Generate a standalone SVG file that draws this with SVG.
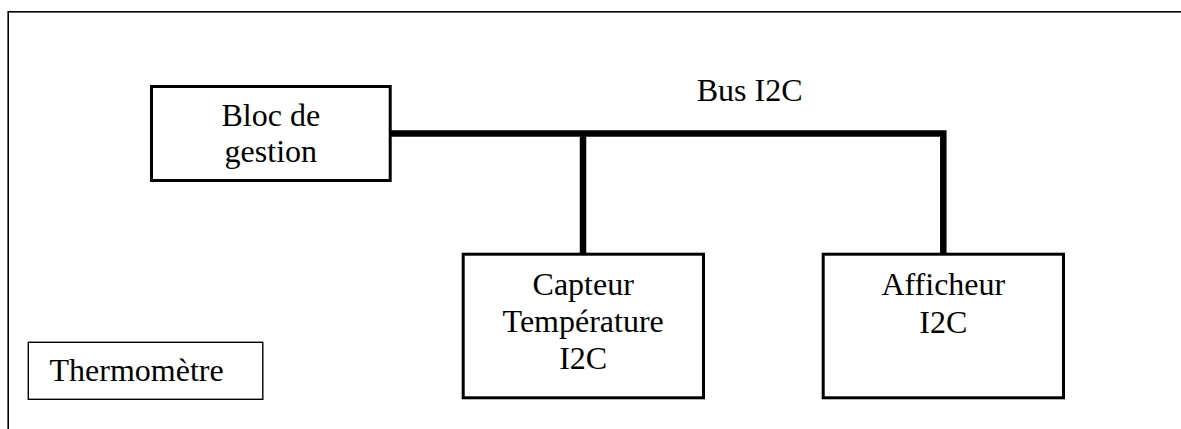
<svg xmlns="http://www.w3.org/2000/svg" width="1181" height="429" viewBox="0 0 1181 429">
<style>
text{font-family:"Liberation Serif","Times New Roman",serif;font-size:32px;fill:#000}
.c{text-anchor:middle}
.box{fill:#fff;stroke:#000;stroke-width:3}
.bus{fill:none;stroke:#000;stroke-width:6.5;stroke-linejoin:miter;stroke-linecap:butt}
</style>
<rect x="0" y="0" width="1181" height="429" fill="#fff"/>
<g id="frame">
<rect x="8.2" y="11.8" width="1200" height="500" fill="none" stroke="#000" stroke-width="1.6"/>
</g>
<g id="connectors">
<path class="bus" d="M390,133.5 H943.3 V254"/>
<path class="bus" d="M583,133.5 V254"/>
<text x="696.7" y="100.5">Bus I2C</text>
</g>
<g id="bloc-gestion">
<rect class="box" x="151.5" y="86.5" width="238.7" height="94"/>
<text class="c" x="270.8" y="125.7">Bloc de</text>
<text class="c" x="270.8" y="162">gestion</text>
</g>
<g id="capteur">
<rect class="box" x="463.2" y="254.2" width="240.3" height="143.6"/>
<text class="c" x="583.2" y="295">Capteur</text>
<text class="c" x="583.2" y="331.8">Température</text>
<text class="c" x="583.2" y="368.6">I2C</text>
</g>
<g id="afficheur">
<rect class="box" x="823.2" y="254.2" width="240.3" height="143.6"/>
<text class="c" x="943.3" y="294.5">Afficheur</text>
<text class="c" x="943.3" y="332.5">I2C</text>
</g>
<g id="thermometre">
<rect x="28.3" y="342.3" width="234.5" height="57" fill="#fff" stroke="#000" stroke-width="1.4"/>
<text x="49.5" y="381">Thermomètre</text>
</g>
</svg>
